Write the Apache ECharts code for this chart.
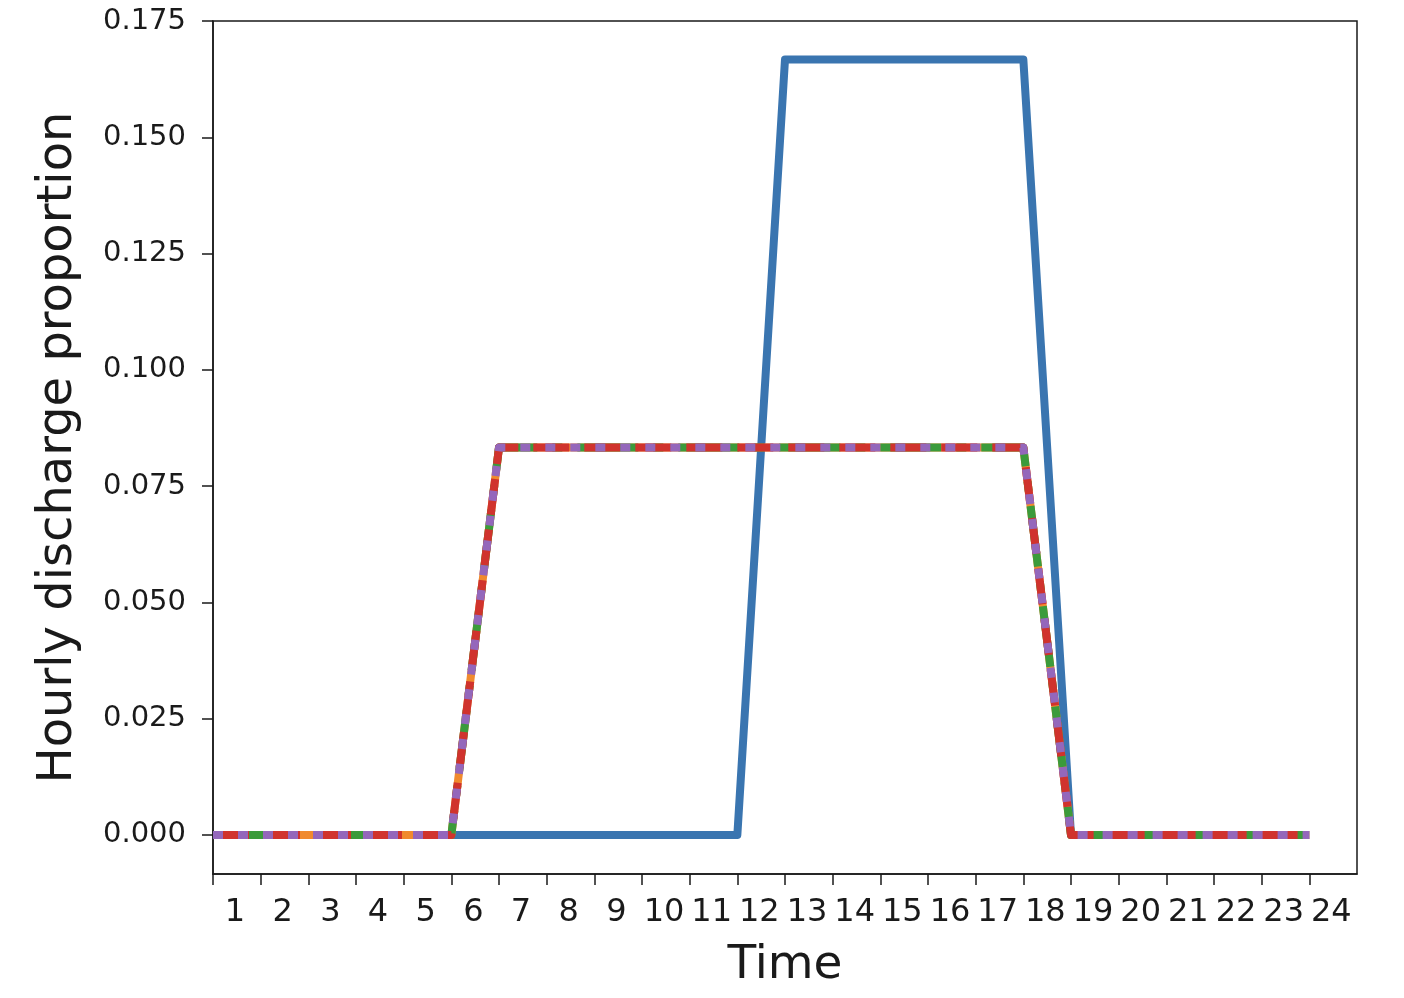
<!DOCTYPE html>
<html>
<head>
<meta charset="utf-8">
<script src="https://cdn.jsdelivr.net/npm/echarts@6/dist/echarts.min.js"></script>
<style>
  html, body { margin: 0; padding: 0; background: #fff; }
  #main { width: 1404px; height: 998px; }
</style>
</head>
<body>
<div id="main"></div>
<script>
// hours shown under the ticks
const hours = [1, 2, 3, 4, 5, 6, 7, 8, 9, 10, 11, 12, 13, 14, 15, 16, 17, 18, 19, 20, 21, 22, 23, 24];
// hourly discharge proportion per profile
const blueVals   = [0, 0, 0, 0, 0, 0, 0, 0, 0, 0, 0, 0, 0.1667, 0.1667, 0.1667, 0.1667, 0.1667, 0.1667, 0, 0, 0, 0, 0, 0];
const orangeVals = [0, 0, 0, 0, 0, 0, 0.0833, 0.0833, 0.0833, 0.0833, 0.0833, 0.0833, 0.0833, 0.0833, 0.0833, 0.0833, 0.0833, 0.0833, 0, 0, 0, 0, 0, 0];
const greenVals  = [0, 0, 0, 0, 0, 0, 0.0833, 0.0833, 0.0833, 0.0833, 0.0833, 0.0833, 0.0833, 0.0833, 0.0833, 0.0833, 0.0833, 0.0833, 0, 0, 0, 0, 0, 0];
const redVals    = [0, 0, 0, 0, 0, 0, 0.0833, 0.0833, 0.0833, 0.0833, 0.0833, 0.0833, 0.0833, 0.0833, 0.0833, 0.0833, 0.0833, 0.0833, 0, 0, 0, 0, 0, 0];
const purpleVals = [0, 0, 0, 0, 0, 0, 0.0833, 0.0833, 0.0833, 0.0833, 0.0833, 0.0833, 0.0833, 0.0833, 0.0833, 0.0833, 0.0833, 0.0833, 0, 0, 0, 0, 0, 0];
// y tick labels
const yTicks = [0, 0.025, 0.05, 0.075, 0.1, 0.125, 0.15, 0.175];

const font = 'DejaVu Sans';
const ink = '#1a1a1a';

// x position = hour index (0..23), label shows hour number
function pairs(vals) {
    return vals.map((v, i) => [i, v]);
}
const xTickPos = hours.map((h, i) => i);

function line(name, vals, color, dash) {
    return {
        name: name,
        type: 'line',
        data: pairs(vals),
        symbol: 'none',
        lineStyle: { color: color, width: 8, type: dash, join: 'round', cap: 'butt' },
        emphasis: { disabled: true }
    };
}

var chart = echarts.init(document.getElementById('main'));
var option = {
    animation: false,
    grid: {
        left: 213, right: 47, top: 21, bottom: 124,
        show: true, borderColor: ink, borderWidth: 1.5, backgroundColor: 'transparent'
    },
    xAxis: {
        type: 'value',
        min: 0,
        max: 24,
        name: 'Time',
        nameLocation: 'middle',
        nameGap: 68,
        nameTextStyle: { fontFamily: font, fontSize: 47, color: ink },
        axisLine: { show: true, onZero: false, lineStyle: { color: ink, width: 1.5 } },
        axisTick: { show: true, length: 11, customValues: xTickPos, lineStyle: { color: ink, width: 1.5 } },
        axisLabel: {
            customValues: xTickPos,
            formatter: v => String(hours[Math.round(v)]),
            fontFamily: font, fontSize: 32, color: ink,
            margin: 23,
            padding: [0, 0, 0, 44]
        },
        splitLine: { show: false }
    },
    yAxis: {
        type: 'value',
        min: -0.0084,
        max: 0.175,
        name: 'Hourly discharge proportion',
        nameLocation: 'middle',
        nameGap: 130,
        nameTextStyle: { fontFamily: font, fontSize: 48, color: ink },
        axisLine: { show: true, lineStyle: { color: ink, width: 1.5 } },
        axisTick: { show: true, length: 11, customValues: yTicks, lineStyle: { color: ink, width: 1.5 } },
        axisLabel: {
            customValues: yTicks,
            formatter: v => v.toFixed(3),
            fontFamily: font, fontSize: 29, color: ink,
            margin: 27
        },
        splitLine: { show: false }
    },
    series: [
        line('blue', blueVals, '#3a75b0', 'solid'),
        line('orange', orangeVals, '#f08a2e', 'solid'),
        line('green', greenVals, '#3b9b3b', [61, 15, 10, 15]),
        line('red', redVals, '#d0332d', [36, 15]),
        line('purple', purpleVals, '#9467bb', [10, 15])
    ]
};
chart.setOption(option);
</script>
</body>
</html>
